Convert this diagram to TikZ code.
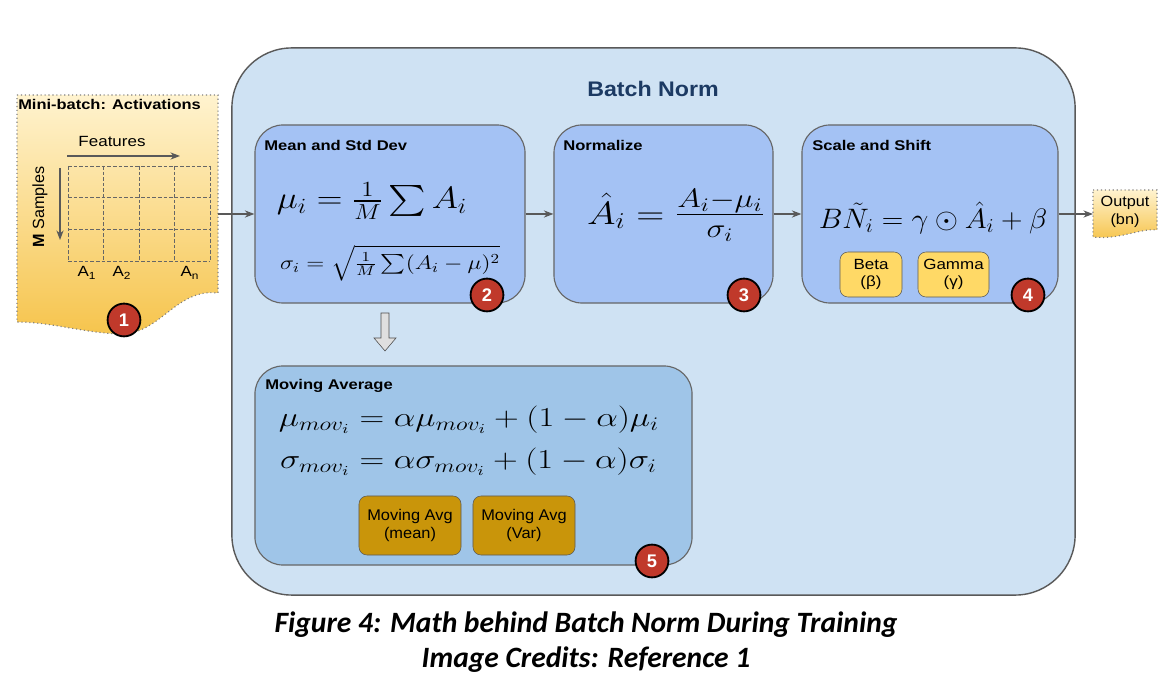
\RequirePackage{fix-cm}
\documentclass[tikz,border=0pt]{standalone}
\usepackage{amsmath}
\usepackage{amssymb}
\usepackage{graphicx}
\usepackage{fontspec}
\newfontfamily\labelfont{Liberation Sans}
\newfontfamily\capfont{Carlito}
\usepackage{tikz}
\usetikzlibrary{positioning,arrows.meta,calc}

\definecolor{bnback}{HTML}{CFE2F3}
\definecolor{stagefill}{HTML}{A4C2F4}
\definecolor{movfill}{HTML}{9FC5E8}
\definecolor{paramfill}{HTML}{FFD966}
\definecolor{avgfill}{HTML}{C9950A}
\definecolor{badgered}{HTML}{C0392B}
\definecolor{titleblue}{HTML}{1C3A63}
\definecolor{docpale}{HTML}{FFF3CF}
\definecolor{docdeep}{HTML}{F6C44C}
\definecolor{linegray}{HTML}{595959}

% the source figure is a little wider than its type
\newcommand\wx[2][1.15]{\scalebox{#1}[1]{#2}}

\begin{document}
\begin{tikzpicture}[
    x=0.025cm, y=-0.025cm,
    font=\labelfont\fontsize{10.5}{12.5}\selectfont,
    flow/.style={->, >={Stealth[length=2.4mm, width=1.8mm]}, linegray, thick},
    stage/.style={draw=gray!80!black, fill=stagefill, rounded corners=0.7cm, line width=0.8pt},
    boxtitle/.style={anchor=west, inner sep=0pt, font=\labelfont\bfseries\fontsize{10}{12}\selectfont},
    param/.style={draw=gray!70!black, fill=paramfill, rounded corners=0.2cm, align=center, inner sep=1pt},
    badge/.style={circle, draw=black, line width=1.3pt, fill=badgered, text=white, minimum size=0.82cm,
      inner sep=0pt, font=\labelfont\bfseries\fontsize{13}{13}\selectfont},
    sheet/.style={top color=docpale, bottom color=docdeep, draw=gray, dotted, thick},
    cell/.style={gray!80!black, dash pattern=on 2.5pt off 1.5pt},
  ]
  \fill[white] (0,0) rectangle (1173,688);
  \useasboundingbox (0,0) rectangle (1173,688);

  % input mini-batch sheet
  \path[sheet] (17,95) -- (218,95) -- (218,293) .. controls (175,288) and (160,336) .. (118,334)
    .. controls (80,332) and (50,322) .. (17,322) -- cycle;
  \node[boxtitle] (mbtitle) at (18,104) {\wx[1.17]{Mini-batch: Activations}};
  \node (feat) at (112,141) {\wx{Features}};
  \coordinate (featL) at (67,156);
  \coordinate (featR) at (180,156);
  \draw[flow] (featL) -- (featR);
  \foreach \gx in {68,103.5,139,174.5,210}
    \draw[cell] (\gx,166) -- (\gx,261);
  \foreach \gy in {166,197.7,229.3,261}
    \draw[cell] (68,\gy) -- (210,\gy);
  \node[rotate=90, font=\labelfont\fontsize{11.5}{13}\selectfont] (msamp) at (40,207) {\textbf{M} Samples};
  \coordinate (sampT) at (60,168);
  \coordinate (sampB) at (60,240);
  \draw[flow] (sampT) -- (sampB);
  \node (a1) at (87,273) {\wx{A\textsubscript{1}}};
  \node (a2) at (122,273) {\wx{A\textsubscript{2}}};
  \node (an) at (190,273) {\wx{A\textsubscript{n}}};
  \node[badge] (n1) at (124,320) {1};

  % batch norm block
  \node[draw=linegray, fill=bnback, rounded corners=1.5cm, line width=1pt,
    minimum width=21.075cm, minimum height=13.675cm] (bn) at (653.5,321.5) {};
  \node[font=\labelfont\bfseries\fontsize{15}{18}\selectfont, text=titleblue] (bntitle) at (653,89) {\wx[1.1]{Batch Norm}};

  \node[stage, minimum width=6.75cm, minimum height=4.45cm] (mean) at (390,214) {};
  \node[stage, minimum width=5.475cm, minimum height=4.45cm] (norm) at (663.5,214) {};
  \node[stage, minimum width=6.4cm, minimum height=4.45cm] (scale) at (930,214) {};
  \node[stage, fill=movfill, minimum width=10.925cm, minimum height=4.975cm] (mov) at (473.5,465.5) {};

  \node[boxtitle] (meant) at (264,145) {\wx[1.18]{Mean and Std Dev}};
  \node[boxtitle] (normt) at (563,145) {\wx[1.18]{Normalize}};
  \node[boxtitle] (scalet) at (812,145) {\wx[1.18]{Scale and Shift}};
  \node[boxtitle] (movt) at (265,386) {\wx[1.18]{Moving Average}};

  % formulas
  \node[font=\fontsize{22}{26}\selectfont] (mueq) at (372,201) {\wx{$\mu_i = \frac{1}{M}\sum A_i$}};
  \node[font=\fontsize{14}{17}\selectfont] (sigeq) at (390,263) {\wx[1.2]{$\sigma_i = \sqrt{\frac{1}{M}\sum (A_i-\mu)^2}$}};
  \node[font=\fontsize{23}{27}\selectfont] (normeq) at (676,215)
    {\wx[1.2]{$\hat{A}_i = \scalebox{1.18}{$\frac{A_i-\mu_i}{\sigma_i}$}$}};
  \node[font=\fontsize{20}{24}\selectfont] (bneq) at (933,218) {\wx[1.06]{$B\tilde{N}_i = \gamma\odot\hat{A}_i + \beta$}};
  \node[font=\fontsize{19.5}{27}\selectfont] (moveq) at (469,440)
    {\wx[1.25]{$\begin{aligned}\mu_{mov_i} &= \alpha\mu_{mov_i} + (1-\alpha)\mu_i\\
      \sigma_{mov_i} &= \alpha\sigma_{mov_i} + (1-\alpha)\sigma_i\end{aligned}$}};

  % parameters
  \node[param, minimum width=1.55cm, minimum height=1.125cm] (beta) at (871,274.5) {\wx{Beta}\\\wx{(β)}};
  \node[param, minimum width=1.775cm, minimum height=1.125cm] (gamma) at (953.5,274.5) {\wx{Gamma}\\\wx{(γ)}};
  \node[param, fill=avgfill, minimum width=2.55cm, minimum height=1.475cm,
    font=\labelfont\fontsize{11}{13.5}\selectfont] (avgmean) at (410,525.5) {\wx[1.06]{Moving Avg}\\\wx[1.06]{(mean)}};
  \node[param, fill=avgfill, minimum width=2.55cm, minimum height=1.475cm,
    font=\labelfont\fontsize{11}{13.5}\selectfont] (avgvar) at (524,525.5) {\wx[1.06]{Moving Avg}\\\wx[1.06]{(Var)}};

  \node[badge] (n2) at (487,295) {2};
  \node[badge] (n3) at (744,295) {3};
  \node[badge] (n4) at (1028,295) {4};
  \node[badge] (n5) at (652,561) {5};

  % hollow arrow to moving average
  \draw[fill=gray!25, draw=gray!60!black] (381,313) -- (389,313) -- (389,338) -- (396,338) -- (385,351)
    -- (374,338) -- (381,338) -- cycle;

  % output sheet
  \path[sheet] (1093,190) -- (1157,190) -- (1157,230) .. controls (1140,228) and (1120,240) .. (1093,237) -- cycle;
  \node[align=center] (out) at (1125,212) {\wx[1.1]{Output}\\\wx[1.1]{(bn)}};

  % flow
  \coordinate (mbout) at (218,214);
  \coordinate (outin) at (1093,214);
  \draw[flow] (mbout) -- (mean);
  \draw[flow] (mean) -- (norm);
  \draw[flow] (norm) -- (scale);
  \draw[flow] (scale) -- (outin);

  \node[font=\capfont\bfseries\itshape\fontsize{21}{25}\selectfont, align=center] (caption) at (586,642)
    {Figure 4: Math behind Batch Norm During Training\\Image Credits: Reference 1};
\end{tikzpicture}
\end{document}
